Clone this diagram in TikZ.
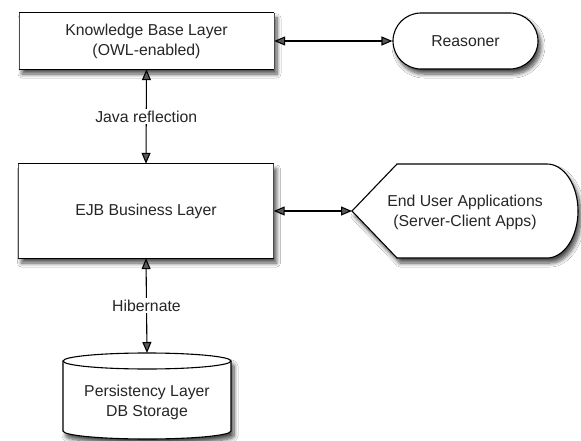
\documentclass[tikz,border=0pt]{standalone}
\usepackage{fontspec}
\setmainfont{Liberation Sans}
\usetikzlibrary{arrows.meta,shadows.blur}
\begin{document}
\begin{tikzpicture}[x=1pt,y=-1pt,
  every node/.style={font=\fontsize{15.8}{20}\selectfont, align=center, text=black!85},
  shad/.style={blur shadow={shadow xshift=3pt,shadow yshift=-5pt,shadow blur steps=8,shadow opacity=70,shadow blur radius=4pt}},
  boxnode/.style={fill=white, shad, minimum width=255pt, inner sep=0pt},
  shapeline/.style={draw=black, line width=1.1pt},
  link/.style={line width=1.1pt, {Triangle[length=11pt,width=9pt]}-{Triangle[length=11pt,width=9pt]}},
  lab/.style={fill=white, inner sep=2pt}
]
\useasboundingbox (0,0) rectangle (581,441);
\fill[white] (0,0) rectangle (581,441);

% Knowledge Base Layer
\node[boxnode, minimum height=56pt] (kb) at (146.5,41) {Knowledge Base Layer\\(OWL-enabled)};
\draw[line width=1.3pt] (kb.north west) -- (kb.north east) (kb.south west) -- (kb.south east);
\draw[line width=0.5pt, black!70] (kb.north west) -- (kb.south west) (kb.north east) -- (kb.south east);

% Reasoner
\node[fill=white, shapeline, rounded corners=28pt, minimum width=145pt, minimum height=56pt, shad] (rs) at (465.5,41) {Reasoner};

% EJB Business Layer
\node[boxnode, minimum height=94pt] (ejb) at (146,211) {EJB Business Layer};
\draw[line width=1.3pt] (ejb.north west) -- (ejb.north east) (ejb.south west) -- (ejb.south east);
\draw[line width=0.5pt, black!70] (ejb.north west) -- (ejb.south west) (ejb.north east) -- (ejb.south east);

% End User Applications (display shape)
\path[fill=white, shapeline, shad] (352,211) -- (397,164) -- (547,164)
  arc[start angle=90, end angle=-90, x radius=31pt, y radius=47pt]
  -- (397,258) -- cycle;
\node (eu) at (465,212) {End User Applications\\(Server-Client Apps)};
\coordinate (eutip) at (352,211);

% Persistency Layer (cylinder)
\path[fill=white, shapeline, shad] (63,361) -- (63,431)
  arc[start angle=180, end angle=360, x radius=84pt, y radius=8pt]
  -- (231,361)
  arc[start angle=0, end angle=180, x radius=84pt, y radius=8pt] -- cycle;
\draw[line width=1.1pt] (63,361) arc[start angle=180, end angle=360, x radius=84pt, y radius=8pt];
\node (db) at (147,402) {Persistency Layer\\DB Storage};
\coordinate (dbtop) at (147,353);

% Connectors
\draw[link] (kb.east) -- (rs.west);
\draw[link] (ejb.east) -- (eutip);
\draw[link] (kb.south) -- node[lab] {Java reflection} (ejb.north);
\draw[link] (ejb.south) -- node[lab] {Hibernate} (dbtop);
\end{tikzpicture}
\end{document}
